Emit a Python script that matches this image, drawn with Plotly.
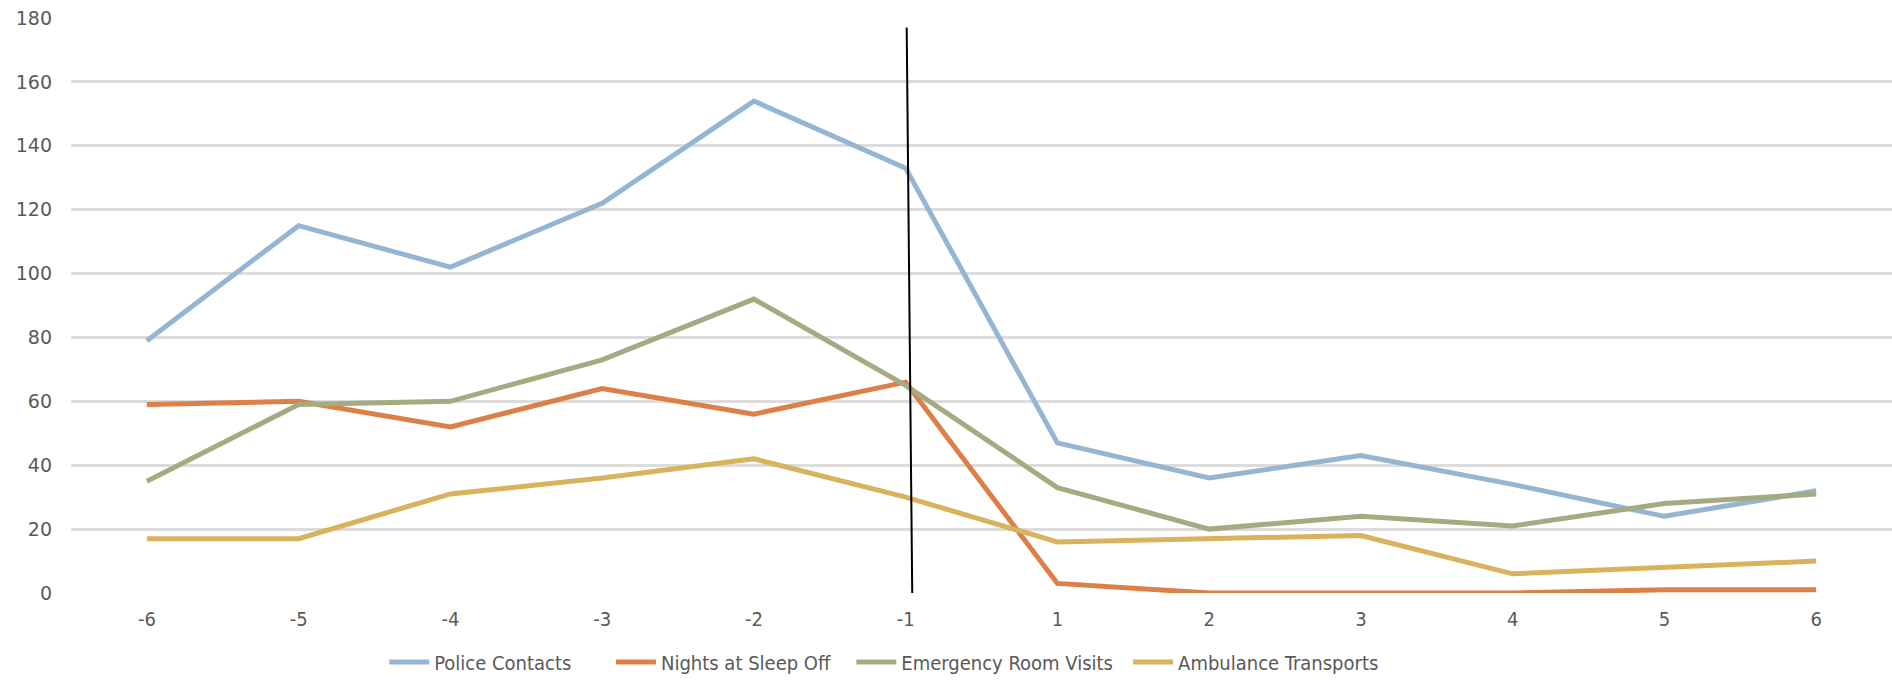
import plotly.graph_objects as go

# Periods before (-6..-1) and after (1..6) the intervention
periods = ["-6", "-5", "-4", "-3", "-2", "-1", "1", "2", "3", "4", "5", "6"]

police_contacts = [79, 115, 102, 122, 154, 133, 47, 36, 43, 34, 24, 32]
nights_sleep_off = [59, 60, 52, 64, 56, 66, 3, 0, 0, 0, 1, 1]
er_visits = [35, 59, 60, 73, 92, 65, 33, 20, 24, 21, 28, 31]
ambulance_transports = [17, 17, 31, 36, 42, 30, 16, 17, 18, 6, 8, 10]

series_names = ["Police Contacts", "Nights at Sleep Off",
                "Emergency Room Visits", "Ambulance Transports"]
series_values = [police_contacts, nights_sleep_off, er_visits, ambulance_transports]
series_colors = ["#94B6D2", "#DD8047", "#A5AB81", "#D8B25C"]

# Each legend entry gets its own legend box so the spacing can be set freely
legend_ids = ["legend", "legend2", "legend3", "legend4"]
legend_x = [0.172, 0.2965, 0.4285, 0.5805]

condensed = "DejaVu Sans Condensed, Liberation Sans Narrow, sans-serif"

fig = go.Figure()
for name, values, color, lg in zip(series_names, series_values, series_colors, legend_ids):
    fig.add_trace(go.Scatter(
        x=periods, y=values, name=name, mode="lines",
        line=dict(color=color, width=5),
        legend=lg,
    ))

# Hand-drawn divider marking the intervention point (category index 5 = "-1")
fig.add_shape(
    type="line", xref="x", yref="y",
    x0=5.007, y0=177, x1=5.045, y1=-7,
    line=dict(color="black", width=2),
)

legend_style = dict(
    orientation="h", y=-0.12, xanchor="left", yanchor="middle",
    font=dict(family=condensed, size=20, color="#595959"),
    itemwidth=40, bgcolor="rgba(0,0,0,0)",
)
layout_legends = {lg: dict(legend_style, x=x) for lg, x in zip(legend_ids, legend_x)}

fig.update_layout(
    width=1892, height=682,
    margin=dict(l=71, r=0, t=18, b=89),
    paper_bgcolor="white", plot_bgcolor="white",
    showlegend=True,
    **layout_legends,
)
fig.update_xaxes(
    type="category", range=[-0.5, 11.5],
    showgrid=False, zeroline=False, showline=False,
    tickfont=dict(family=condensed, size=20, color="#595959"),
    ticks="", ticklabelstandoff=12,
)
fig.update_yaxes(
    range=[0, 180], dtick=20, tick0=0,
    showgrid=True, gridcolor="#DCDCDC", gridwidth=2.5,
    zeroline=False, showline=False,
    tickfont=dict(family="DejaVu Sans", size=19, color="#595959"),
    ticks="", ticklabelstandoff=18,
)

fig.write_html("out.html")
